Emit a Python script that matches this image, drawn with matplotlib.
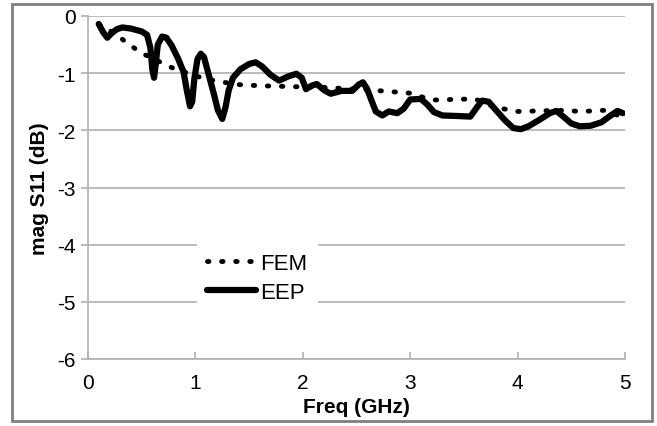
import matplotlib
matplotlib.use("Agg")
import matplotlib.pyplot as plt
from matplotlib.patches import Rectangle

plt.rcParams['font.family'] = ['Liberation Sans', 'DejaVu Sans']
plt.rcParams['axes.unicode_minus'] = False

fem_f = [0.1, 0.2, 0.3, 0.4, 0.5, 0.6, 0.7, 0.8, 0.9, 1.0, 1.2, 1.4, 1.6, 1.8,
         2.0, 2.2, 2.4, 2.6, 2.8, 3.0, 3.2, 3.4, 3.6, 3.8, 4.0, 4.2, 4.4, 4.6,
         4.8, 5.0]
fem_v = [-0.14, -0.25, -0.38, -0.52, -0.65, -0.74, -0.83, -0.92, -0.98, -1.05,
         -1.14, -1.2, -1.22, -1.23, -1.24, -1.25, -1.27, -1.29, -1.32, -1.35,
         -1.47, -1.46, -1.45, -1.6, -1.67, -1.66, -1.65, -1.67, -1.65, -1.78]

eep_f = [0.10, 0.14, 0.18, 0.22, 0.27, 0.32, 0.40, 0.50, 0.55, 0.58, 0.60,
         0.615, 0.63, 0.65, 0.69, 0.73, 0.78, 0.84, 0.89, 0.92, 0.95, 0.97,
         0.99, 1.02, 1.05, 1.08, 1.12, 1.17, 1.21, 1.25, 1.28, 1.31, 1.35,
         1.42, 1.50, 1.56, 1.62, 1.70, 1.78, 1.86, 1.94, 1.99, 2.03, 2.08,
         2.13, 2.20, 2.26, 2.36, 2.46, 2.52, 2.56, 2.60, 2.64, 2.68, 2.74,
         2.80, 2.88, 2.94, 3.00, 3.10, 3.16, 3.22, 3.30, 3.45, 3.56, 3.62,
         3.67, 3.73, 3.80, 3.88, 3.96, 4.03, 4.10, 4.20, 4.30, 4.36, 4.42,
         4.50, 4.58, 4.68, 4.78, 4.86, 4.93, 4.98]
eep_v = [-0.14, -0.28, -0.38, -0.30, -0.23, -0.20, -0.22, -0.27, -0.33, -0.55,
         -0.95, -1.08, -0.85, -0.50, -0.36, -0.38, -0.52, -0.75, -0.98, -1.30,
         -1.58, -1.50, -1.10, -0.75, -0.66, -0.72, -1.00, -1.35, -1.65, -1.80,
         -1.60, -1.30, -1.08, -0.93, -0.84, -0.81, -0.88, -1.03, -1.13, -1.06,
         -1.01, -1.08, -1.28, -1.22, -1.19, -1.30, -1.36, -1.31, -1.31, -1.20,
         -1.16, -1.28, -1.48, -1.67, -1.74, -1.67, -1.70, -1.62, -1.46, -1.45,
         -1.55, -1.68, -1.74, -1.75, -1.76, -1.60, -1.48, -1.50, -1.65, -1.82,
         -1.96, -1.98, -1.93, -1.82, -1.70, -1.66, -1.75, -1.88, -1.93, -1.92,
         -1.86, -1.75, -1.66, -1.70]

x_ticks = [0, 1, 2, 3, 4, 5]
y_ticks = [0, -1, -2, -3, -4, -5, -6]

fig = plt.figure(figsize=(6.57, 4.27), dpi=100)
ax = fig.add_axes([88/657, 1-360/427, (625-88)/657, (360-17)/427])

for yt in y_ticks:
    ax.axhline(yt, color='#b0b0b0', lw=1.2, zorder=0)

ax.plot(fem_f, fem_v, color='black', lw=3.5, linestyle=(0, (0.3, 2.6)),
        dash_capstyle='round', label='FEM', zorder=3)
ax.plot(eep_f, eep_v, color='black', lw=4.5, label='EEP', zorder=4,
        solid_joinstyle='round', solid_capstyle='round')

ax.set_xlim(0, 5)
ax.set_ylim(-6, 0)
ax.set_xticks(x_ticks)
ax.set_yticks(y_ticks)
ax.tick_params(axis='both', labelsize=15, color='#b0b0b0', length=5, width=1.2)
ax.tick_params(axis='x', direction='in', pad=10)
ax.tick_params(axis='y', direction='out', pad=4)
for s in ['top', 'right']:
    ax.spines[s].set_visible(False)
for s in ['left', 'bottom']:
    ax.spines[s].set_color('#b0b0b0')
    ax.spines[s].set_linewidth(1.2)

ax.set_xlabel('Freq (GHz)', fontsize=15, fontweight='bold', labelpad=4)
ax.set_ylabel('mag S11 (dB)', fontsize=15, fontweight='bold', labelpad=6)

leg = ax.legend(loc='lower left', bbox_to_anchor=((186-88)/537, (360-325)/343),
                frameon=True, fontsize=16, handlelength=2.2, handletextpad=0.2,
                borderpad=0.45, labelspacing=0.35, framealpha=1)
leg.get_frame().set_edgecolor('none')
leg.get_frame().set_facecolor('white')
leg.get_frame().set_boxstyle('square', pad=0)

fig.patches.append(Rectangle((12/657, 1-422/427), (652-12)/657, (422-5)/427,
                             transform=fig.transFigure, fill=False,
                             edgecolor='#808080', lw=2))

fig.savefig('out.png', dpi=100)
